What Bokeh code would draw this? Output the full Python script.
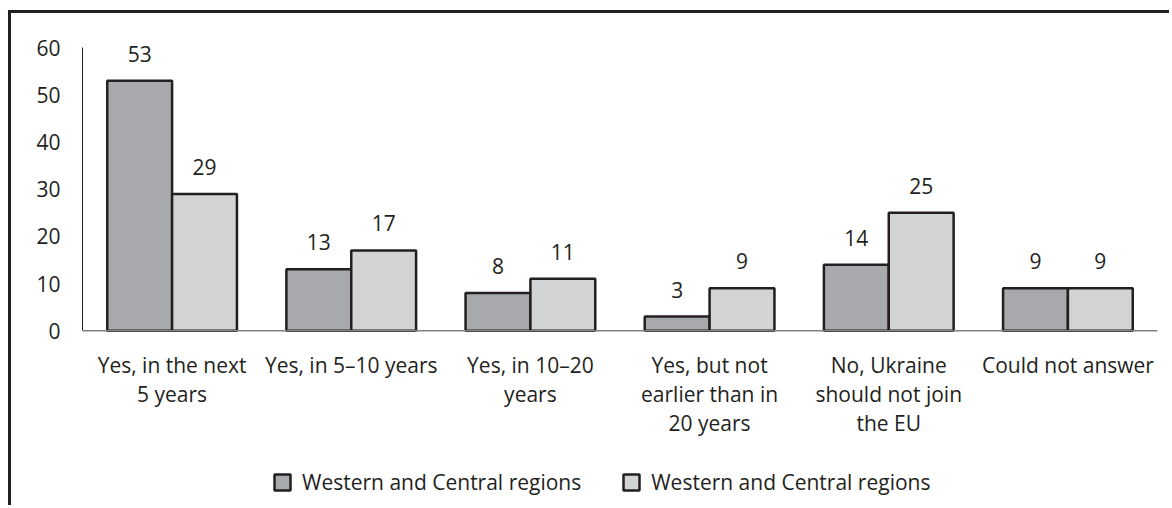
from bokeh.plotting import figure
from bokeh.models import ColumnDataSource, FactorRange, Range1d, Legend, LegendItem, FixedTicker, Span
from bokeh.transform import dodge
from bokeh.core.properties import value
from bokeh.embed import file_html
from bokeh.resources import INLINE

categories = [
    "Yes, in the next\n5 years",
    "Yes, in 5\u201310 years",
    "Yes, in 10\u201320\nyears",
    "Yes, but not\nearlier than in\n20 years",
    "No, Ukraine\nshould not join\nthe EU",
    "Could not answer",
]
series_names = ["Western and Central regions", "Western and Central regions"]
series_a = [53, 13, 8, 3, 14, 9]
series_b = [29, 17, 11, 9, 25, 9]
y_ticks = [0, 10, 20, 30, 40, 50, 60]

FONT = "Open Sans"
TEXT = "#231f20"
DARK = "#a7a9ac"
LIGHT = "#d1d3d4"

W, H = 1161, 495
TOP_BORDER = 20
PX_PER_UNIT = 250 / 53
Y_TOP = 63
frame_h = H - TOP_BORDER
y_bottom = Y_TOP - frame_h / PX_PER_UNIT

src = ColumnDataSource(dict(
    cat=categories,
    a=series_a,
    b=series_b,
    a_lbl=[str(v) for v in series_a],
    b_lbl=[str(v) for v in series_b],
    zero=[0] * len(categories),
))

p = figure(
    x_range=FactorRange(*categories, range_padding=0),
    y_range=Range1d(y_bottom, Y_TOP),
    width=W, height=H,
    output_backend="svg", toolbar_location=None,
    min_border_left=71, min_border_right=15,
    min_border_top=TOP_BORDER, min_border_bottom=0,
)
p.styles = {"border-left": "3px solid #231f20", "border-top": "3px solid #231f20",
            "margin-top": "10px", "margin-left": "8px"}
p.outline_line_color = None
p.grid.grid_line_color = None
p.xaxis.visible = False

# baseline
p.add_layout(Span(location=0, dimension="width", line_color="#808080", line_width=1.5))

w = 0.362
off = 0.181
r1 = p.vbar(x=dodge("cat", -off, range=p.x_range), top="a", width=w, source=src,
            fill_color=DARK, line_color=TEXT, line_width=2.5)
r2 = p.vbar(x=dodge("cat", off, range=p.x_range), top="b", width=w, source=src,
            fill_color=LIGHT, line_color=TEXT, line_width=2.5)

for col, lbl, o in (("a", "a_lbl", -off), ("b", "b_lbl", off)):
    p.text(x=dodge("cat", o, range=p.x_range), y=col, text=lbl, source=src,
           text_align="center", text_baseline="bottom", y_offset=-19,
           text_font=value(FONT), text_font_size="21px", text_color=TEXT)

# category labels
p.text(x="cat", y="zero", text="cat", source=src,
       text_align="center", text_baseline="top", y_offset=20,
       text_font=value(FONT), text_font_size="21px", text_color=TEXT,
       text_line_height=1.05)

# y axis
p.yaxis.bounds = (0, 60)
p.yaxis.ticker = FixedTicker(ticks=y_ticks)
p.yaxis.major_tick_line_color = None
p.yaxis.minor_tick_line_color = None
p.yaxis.axis_line_color = TEXT
p.yaxis.axis_line_width = 1
p.yaxis.major_label_standoff = 16
p.yaxis.major_label_text_font = FONT
p.yaxis.major_label_text_font_size = "21px"
p.yaxis.major_label_text_color = TEXT

legend = Legend(
    items=[LegendItem(label=series_names[0], renderers=[r1]),
           LegendItem(label=series_names[1], renderers=[r2])],
    orientation="horizontal", location=(190, 12),
    glyph_width=20, glyph_height=20, label_standoff=10, spacing=40,
    padding=0, margin=0, border_line_alpha=0, background_fill_alpha=0,
    label_text_font=FONT, label_text_font_size="21px", label_text_color=TEXT,
)
p.add_layout(legend, "center")

open("out.html", "w").write(file_html(p, INLINE))
